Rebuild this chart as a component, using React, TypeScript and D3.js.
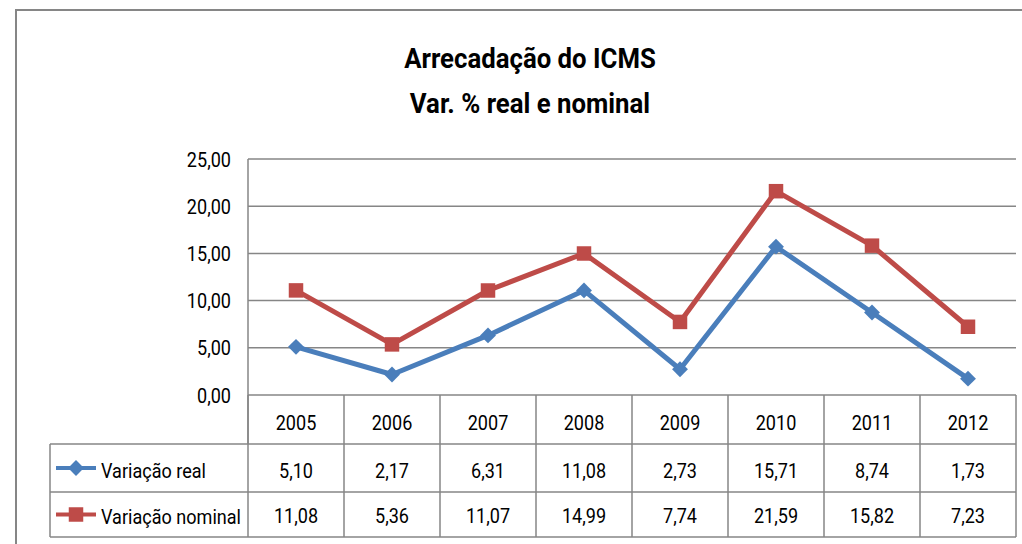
import React, { useEffect, useRef } from 'react';
import * as d3 from 'd3';

const years = ['2005', '2006', '2007', '2008', '2009', '2010', '2011', '2012'];
const variacaoReal = [5.10, 2.17, 6.31, 11.08, 2.73, 15.71, 8.74, 1.73];
const variacaoNominal = [11.08, 5.36, 11.07, 14.99, 7.74, 21.59, 15.82, 7.23];
const yTicks = [0, 5, 10, 15, 20, 25];
const titleLines = ['Arrecadação do ICMS', 'Var. % real e nominal'];

const FONT = "Roboto, 'DejaVu Sans Condensed', sans-serif";
const BLUE = '#4a7ebb';
const RED = '#be4b48';
const GRID = '#868686';

const fmt = (v: number) => v.toFixed(2).replace('.', ',');

// narrow, tall text to mimic the stretched Calibri of the original
const label = (g: any, x: number, y: number, text: string, anchor = 'middle') =>
  g.append('text')
    .attr('transform', `translate(${x},${y}) scale(0.86,1)`)
    .attr('dy', '0.36em')
    .attr('text-anchor', anchor)
    .attr('font-family', FONT)
    .attr('font-size', 21)
    .attr('fill', '#000')
    .text(text);

const App = () => {
  const svgRef = useRef<SVGSVGElement>(null);

  useEffect(() => {
    const svg = d3.select(svgRef.current);
    svg.selectAll('*').remove();

    const left = 248;
    const right = 1016;
    const top = 159;
    const bottom = 395;
    const legendLeft = 50;
    const rows = [395, 444, 492, 537];

    const x = d3.scaleBand().domain(years).range([left, right]);
    const y = d3.scaleLinear().domain([0, 25]).range([bottom, top]);

    // outer chart frame
    svg.append('rect')
      .attr('x', 16).attr('y', 10)
      .attr('width', 1030).attr('height', 560)
      .attr('fill', 'white')
      .attr('stroke', GRID).attr('stroke-width', 2);

    const title = svg.append('text')
      .attr('text-anchor', 'middle')
      .attr('font-family', FONT)
      .attr('font-weight', 'bold')
      .attr('font-size', 28)
      .attr('fill', '#000')
      .attr('transform', 'translate(530,0) scale(0.92,1)');
    titleLines.forEach((t, i) => {
      title.append('tspan').attr('x', 0).attr('y', 68 + i * 45).text(t);
    });

    // gridlines
    svg.append('g').selectAll('line')
      .data(yTicks)
      .join('line')
      .attr('x1', left).attr('x2', right)
      .attr('y1', d => y(d)).attr('y2', d => y(d))
      .attr('stroke', GRID).attr('stroke-width', 1.5);

    // value axis line
    svg.append('line')
      .attr('x1', left).attr('x2', left)
      .attr('y1', top).attr('y2', rows[1])
      .attr('stroke', GRID).attr('stroke-width', 1.5);

    const ticks = svg.append('g');
    yTicks.forEach(t => label(ticks, 231, y(t), fmt(t), 'end'));

    // data table grid
    const table = svg.append('g')
      .attr('stroke', GRID).attr('stroke-width', 1.5);
    table.selectAll('line.col')
      .data(years)
      .join('line')
      .attr('class', 'col')
      .attr('x1', d => (x(d) as number) + x.bandwidth())
      .attr('x2', d => (x(d) as number) + x.bandwidth())
      .attr('y1', rows[0]).attr('y2', rows[3]);
    table.append('line')
      .attr('x1', left).attr('x2', left).attr('y1', rows[0]).attr('y2', rows[3]);
    table.append('line')
      .attr('x1', legendLeft).attr('x2', legendLeft).attr('y1', rows[1]).attr('y2', rows[3]);
    [rows[1], rows[2], rows[3]].forEach(r => {
      table.append('line')
        .attr('x1', legendLeft).attr('x2', right).attr('y1', r).attr('y2', r);
    });

    const cx = (i: number) => (x(years[i]) as number) + x.bandwidth() / 2;
    const cells = svg.append('g');
    years.forEach((yr, i) => {
      label(cells, cx(i), (rows[0] + rows[1]) / 2 + 3, yr);
      label(cells, cx(i), (rows[1] + rows[2]) / 2 + 2, fmt(variacaoReal[i]));
      label(cells, cx(i), (rows[2] + rows[3]) / 2 + 1, fmt(variacaoNominal[i]));
    });

    const line = d3.line<number>().x((_, i) => cx(i)).y(d => y(d));
    const diamond = d3.symbol().type(d3.symbolDiamond2).size(160);
    const square = d3.symbol().type(d3.symbolSquare).size(210);

    const series = [
      { values: variacaoReal, color: BLUE, marker: diamond, name: 'Variação real', row: 1 },
      { values: variacaoNominal, color: RED, marker: square, name: 'Variação nominal', row: 2 },
    ];

    series.forEach(s => {
      svg.append('path')
        .datum(s.values)
        .attr('fill', 'none')
        .attr('stroke', s.color)
        .attr('stroke-width', 5)
        .attr('stroke-linejoin', 'round')
        .attr('d', line);
      svg.append('g').selectAll('path')
        .data(s.values)
        .join('path')
        .attr('transform', (d, i) => `translate(${cx(i)},${y(d)})`)
        .attr('d', s.marker() as string)
        .attr('fill', s.color);

      const ly = (rows[s.row] + rows[s.row + 1]) / 2;
      svg.append('line')
        .attr('x1', 56).attr('x2', 96).attr('y1', ly).attr('y2', ly)
        .attr('stroke', s.color).attr('stroke-width', 4);
      svg.append('path')
        .attr('transform', `translate(76,${ly})`)
        .attr('d', s.marker() as string)
        .attr('fill', s.color);
      label(svg, 101, ly + 2, s.name, 'start');
    });
  }, []);

  return (
    <div style={{ position: 'fixed', left: 0, top: 0, width: 1022, height: 544, background: 'white' }}>
      <svg ref={svgRef} width={1022} height={544} style={{ display: 'block' }} />
    </div>
  );
};

export default App;
